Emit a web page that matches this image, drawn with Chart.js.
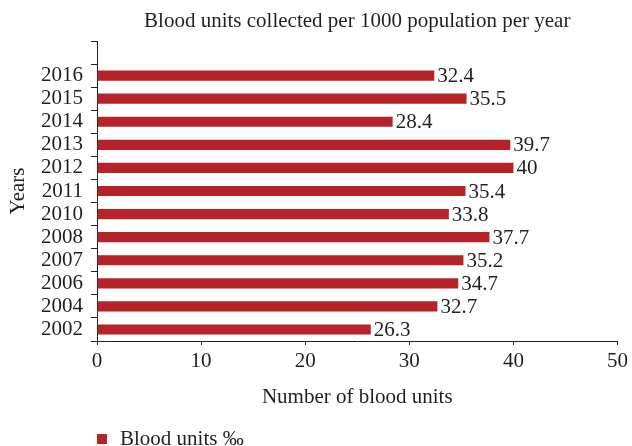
<!DOCTYPE html>
<html>
<head>
<meta charset="utf-8">
<script src="https://cdn.jsdelivr.net/npm/chart.js@4"></script>
<style>
  html, body { margin: 0; padding: 0; background: #fff; }
  #wrap { width: 632px; height: 446px; }
</style>
</head>
<body>
<div id="wrap"><canvas id="myChart" width="632" height="446"></canvas></div>
<script>
// data, top to bottom (first slot left empty like the original)
const years = ['', '2016', '2015', '2014', '2013', '2012', '2011', '2010', '2008', '2007', '2006', '2004', '2002'];
const bloodUnits = [null, 32.4, 35.5, 28.4, 39.7, 40, 35.4, 33.8, 37.7, 35.2, 34.7, 32.7, 26.3];
const xTicks = [0, 10, 20, 30, 40, 50];

const chartTitle = 'Blood units collected per 1000 population per year';
const seriesName = 'Blood units \u2030';
const barColor = '#b52227';
const textColor = '#231f20';
const serif = "'Liberation Serif', 'DejaVu Serif', serif";
const fontSize = 21;

// value labels, title and legend are drawn by hand
const extras = {
    id: 'extras',
    afterDatasetsDraw(chart) {
        const ctx = chart.ctx;
        const meta = chart.getDatasetMeta(0);
        const area = chart.chartArea;
        ctx.save();
        ctx.font = fontSize + 'px ' + serif;
        ctx.fillStyle = textColor;
        ctx.textBaseline = 'middle';
        ctx.textAlign = 'left';
        meta.data.forEach((bar, i) => {
            const v = chart.data.datasets[0].data[i];
            if (v == null) return;
            ctx.fillText(String(v), bar.x + 3, bar.y + 1);
        });

        // title, centred over the plot
        ctx.textAlign = 'center';
        ctx.fillText(chartTitle, (area.left + area.right) / 2, 21);

        // legend
        ctx.fillStyle = barColor;
        ctx.fillRect(97, 434, 10, 10);
        ctx.fillStyle = textColor;
        ctx.textAlign = 'left';
        ctx.fillText(seriesName, 120, 439);
        ctx.restore();
    }
};

const ctx = document.getElementById('myChart').getContext('2d');
let myChart = new Chart(ctx, {
    type: 'bar',
    data: {
        labels: years,
        datasets: [{
            label: seriesName,
            data: bloodUnits,
            backgroundColor: barColor,
            categoryPercentage: 1,
            barPercentage: 0.44
        }]
    },
    options: {
        indexAxis: 'y',
        responsive: false,
        animation: false,
        layout: {
            padding: { top: 41, right: 0, bottom: 36, left: 0 }
        },
        plugins: {
            legend: { display: false },
            title: { display: false },
            tooltip: { enabled: false }
        },
        scales: {
            x: {
                min: 0,
                max: 50,
                afterBuildTicks: (axis) => { axis.ticks = xTicks.map(v => ({ value: v })); },
                afterFit: (axis) => { axis.height = 69; },
                grid: { display: true, drawOnChartArea: false, tickLength: 4, color: textColor },
                border: { color: textColor, width: 1 },
                ticks: { color: textColor, font: { family: serif, size: fontSize }, padding: 4 },
                title: {
                    display: true,
                    text: 'Number of blood units',
                    color: textColor,
                    font: { family: serif, size: fontSize },
                    padding: { top: 4, bottom: 0 }
                }
            },
            y: {
                afterFit: (axis) => { axis.width = 97; },
                grid: { display: true, drawOnChartArea: false, offset: true, tickLength: 6, color: textColor },
                border: { color: textColor, width: 1 },
                ticks: { color: textColor, font: { family: serif, size: fontSize }, padding: 8, autoSkip: false },
                title: {
                    display: true,
                    text: 'Years',
                    color: textColor,
                    font: { family: serif, size: fontSize },
                    padding: { top: 6, bottom: 0 }
                }
            }
        }
    },
    plugins: [extras]
});
</script>
</body>
</html>
